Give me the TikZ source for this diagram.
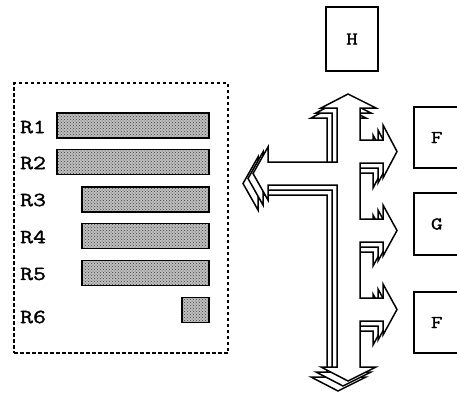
\documentclass[tikz,border=0pt]{standalone}
\usepackage{fontspec}
\newfontfamily\monofont{Latin Modern Mono}[FakeBold=1.6, FakeStretch=1.25]
\usetikzlibrary{patterns}
\tikzset{
  regbox/.style={draw, line width=1.5pt, dash pattern=on 3.5pt off 2.5pt, minimum width=214pt, minimum height=270pt, inner sep=0pt},
  bar/.style={draw, line width=1.6pt, preaction={fill=black!25}, pattern=crosshatch dots, pattern color=black!75, minimum height=25pt, inner sep=0pt, anchor=east},
  reglabel/.style={anchor=west, inner sep=0pt, font=\monofont\fontsize{20}{20}\selectfont},
  unit/.style={draw, line width=1.6pt, inner sep=0pt, font=\monofont\fontsize{18}{18}\selectfont},
  bus/.style={draw, fill=white, line width=1.5pt, line join=miter}
}
\begin{document}
\begin{tikzpicture}[x=1pt,y=-1pt]
\clip (0,0) rectangle (457,394);
\fill[white] (0,0) rectangle (457,394);

% register file
\node (regs) [regbox] at (121,218) {};
\node (r1bar) [bar, minimum width=152pt] at (210,125.5) {};
\node (r2bar) [bar, minimum width=152pt] at (210,162) {};
\node (r3bar) [bar, minimum width=127pt] at (210,199.5) {};
\node (r4bar) [bar, minimum width=127pt] at (210,236) {};
\node (r5bar) [bar, minimum width=127pt] at (210,273) {};
\node (r6bar) [bar, minimum width=27pt] at (210,310) {};
\node (r1) [reglabel] at (20,127) {R1};
\node (r2) [reglabel] at (20,163) {R2};
\node (r3) [reglabel] at (20,200) {R3};
\node (r4) [reglabel] at (20,237) {R4};
\node (r5) [reglabel] at (20,274) {R5};
\node (r6) [reglabel] at (20,317) {R6};

% units
\node (h) [unit, minimum width=52pt, minimum height=64pt] at (352,39) {H};
\node (f1) [unit, minimum width=46pt, minimum height=61pt, anchor=west] at (413,137.5) {F};
\node (g) [unit, minimum width=46pt, minimum height=62pt, anchor=west] at (413,224) {G};
\node (f2) [unit, minimum width=46pt, minimum height=61pt, anchor=west] at (413,322.5) {F};

% bus, drawn back to front
\foreach \s in {10,5,0}
\draw[bus, shift={(-\s,\s)}]
(348,94) -- (376,108) -- (360,108) -- (360,140) -- (383,140) -- (383,125)
-- (397,151.5) -- (383,178) -- (383,163) -- (360,163) -- (360,219)
-- (383,219) -- (383,205) -- (397,230.5) -- (383,256) -- (383,242)
-- (360,242) -- (360,298) -- (383,298) -- (383,284) -- (397,309.5)
-- (383,335) -- (383,321) -- (360,321) -- (360,367) -- (376,367)
-- (348,381) -- (321,367) -- (337,367) -- (337,185) -- (268,185)
-- (268,200) -- (253,173.5) -- (268,147) -- (268,162) -- (337,162)
-- (337,108) -- (321,108) -- cycle;
\end{tikzpicture}
\end{document}
